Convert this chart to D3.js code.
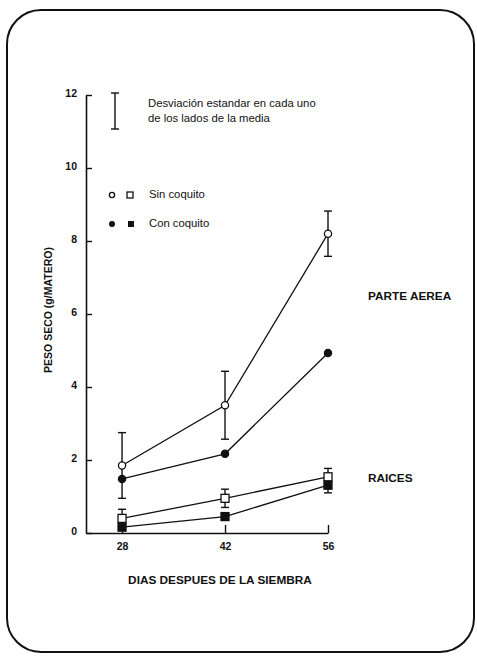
<!DOCTYPE html>
<html>
<head>
<meta charset="utf-8">
<script src="https://cdn.jsdelivr.net/npm/d3@7"></script>
<style>
  body { margin: 0; background: #fff; }
  text { font-family: "Liberation Sans", Arial, sans-serif; fill: #111; }
</style>
</head>
<body>
<script>
//data
const days = [28, 42, 56];
const yTicks = [0, 2, 4, 6, 8, 10, 12];
const aereaSin = [1.85, 3.5, 8.2];
const aereaSinSD = [0.9, 0.93, 0.62];
const aereaCon = [1.48, 2.17, 4.93];
const raicesSin = [0.4, 0.95, 1.54];
const raicesSinSD = [0.25, 0.25, 0.23];
const raicesCon = [0.16, 0.45, 1.31];
const raicesConSD = [null, null, 0.21];

const width = 477;
const height = 657;

const svg = d3.select("body")
    .append("svg")
    .attr("width", width)
    .attr("height", height);

//rounded frame
svg.append("rect")
    .attr("x", 7).attr("y", 10)
    .attr("width", 467).attr("height", 642)
    .attr("rx", 34).attr("ry", 34)
    .attr("fill", "none")
    .attr("stroke", "#111")
    .attr("stroke-width", 2);

//scales
const xScale = d3.scaleLinear()
    .domain([23.1, 56])
    .range([86, 328]);
const yScale = d3.scaleLinear()
    .domain([0, 12])
    .range([533, 95]);

//axes (ticks point inward)
const bottomAxis = d3.axisBottom(xScale)
    .tickValues(days)
    .tickSizeInner(-8)
    .tickSizeOuter(0)
    .tickPadding(10);
const leftAxis = d3.axisLeft(yScale)
    .tickValues(yTicks)
    .tickSizeInner(-6)
    .tickSizeOuter(0)
    .tickPadding(9);

const gx = svg.append("g")
    .attr("transform", "translate(0," + yScale(0) + ")")
    .call(bottomAxis);
const gy = svg.append("g")
    .attr("transform", "translate(" + xScale(23.1) + ",0)")
    .call(leftAxis);

[gx, gy].forEach(g => {
    g.select(".domain").attr("stroke", "#111").attr("stroke-width", 1.6);
    g.selectAll(".tick line").attr("stroke", "#111").attr("stroke-width", 1.4);
    g.selectAll(".tick text")
        .attr("font-size", 10.5)
        .attr("font-weight", "bold")
        .style("font-family", "Liberation Sans, Arial, sans-serif")
        .attr("fill", "#111");
});
gy.selectAll(".tick text").attr("dy", "0.1em");

//axis titles
svg.append("text")
    .attr("x", 220).attr("y", 584)
    .attr("text-anchor", "middle")
    .attr("font-size", 11.8)
    .attr("font-weight", "bold")
    .text("DIAS DESPUES DE LA SIEMBRA");

svg.append("text")
    .attr("transform", "translate(52,310) rotate(-90)")
    .attr("text-anchor", "middle")
    .attr("font-size", 10.5)
    .attr("font-weight", "bold")
    .text("PESO SECO (g/MATERO)");

svg.append("text")
    .attr("x", 368).attr("y", 300)
    .attr("font-size", 11.8)
    .attr("font-weight", "bold")
    .text("PARTE AEREA");
svg.append("text")
    .attr("x", 368).attr("y", 482)
    .attr("font-size", 11.8)
    .attr("font-weight", "bold")
    .text("RAICES");

//lines
const line = d3.line()
    .x((d, i) => xScale(days[i]))
    .y(d => yScale(d));

[aereaSin, aereaCon, raicesSin, raicesCon].forEach(s => {
    svg.append("path")
        .attr("d", line(s))
        .attr("fill", "none")
        .attr("stroke", "#111")
        .attr("stroke-width", 1.3);
});

//error bars
function errorBars(values, sds) {
    values.forEach((v, i) => {
        if (sds[i] == null) return;
        const x = xScale(days[i]);
        const y1 = yScale(v + sds[i]);
        const y2 = yScale(v - sds[i]);
        const g = svg.append("g").attr("stroke", "#111").attr("stroke-width", 1.4);
        g.append("line").attr("x1", x).attr("x2", x).attr("y1", y1).attr("y2", y2);
        g.append("line").attr("x1", x - 4).attr("x2", x + 4).attr("y1", y1).attr("y2", y1);
        g.append("line").attr("x1", x - 4).attr("x2", x + 4).attr("y1", y2).attr("y2", y2);
    });
}
errorBars(aereaSin, aereaSinSD);
errorBars(raicesCon, raicesConSD);
errorBars(raicesSin, raicesSinSD);

//markers
function circles(values, filled) {
    svg.selectAll(null)
        .data(values)
        .enter()
        .append("circle")
        .attr("cx", (d, i) => xScale(days[i]))
        .attr("cy", d => yScale(d))
        .attr("r", 3.6)
        .attr("fill", filled ? "#111" : "#fff")
        .attr("stroke", "#111")
        .attr("stroke-width", 1.3);
}
function squares(values, filled) {
    svg.selectAll(null)
        .data(values)
        .enter()
        .append("rect")
        .attr("x", (d, i) => xScale(days[i]) - 4)
        .attr("y", d => yScale(d) - 4)
        .attr("width", 8)
        .attr("height", 8)
        .attr("fill", filled ? "#111" : "#fff")
        .attr("stroke", "#111")
        .attr("stroke-width", 1.3);
}
circles(aereaCon, true);
circles(aereaSin, false);
squares(raicesCon, true);
squares(raicesSin, false);

//legend
const lg = svg.append("g").attr("stroke", "#111").attr("stroke-width", 1.4);
lg.append("line").attr("x1", 115).attr("x2", 115).attr("y1", 93).attr("y2", 129);
lg.append("line").attr("x1", 111).attr("x2", 119).attr("y1", 93).attr("y2", 93);
lg.append("line").attr("x1", 111).attr("x2", 119).attr("y1", 129).attr("y2", 129);

svg.append("text").attr("x", 148).attr("y", 107)
    .attr("font-size", 11.3).text("Desviación estandar en cada uno");
svg.append("text").attr("x", 148).attr("y", 122)
    .attr("font-size", 11.3).text("de los lados de la media");

svg.append("circle").attr("cx", 112).attr("cy", 195).attr("r", 2.6)
    .attr("fill", "#fff").attr("stroke", "#111").attr("stroke-width", 1.3);
svg.append("rect").attr("x", 127).attr("y", 192).attr("width", 6).attr("height", 6)
    .attr("fill", "#fff").attr("stroke", "#111").attr("stroke-width", 1.3);
svg.append("text").attr("x", 149).attr("y", 198)
    .attr("font-size", 11.3).text("Sin coquito");

svg.append("circle").attr("cx", 112).attr("cy", 224).attr("r", 3)
    .attr("fill", "#111");
svg.append("rect").attr("x", 128).attr("y", 221).attr("width", 6).attr("height", 6)
    .attr("fill", "#111");
svg.append("text").attr("x", 149).attr("y", 227)
    .attr("font-size", 11.3).text("Con coquito");
</script>
</body>
</html>
